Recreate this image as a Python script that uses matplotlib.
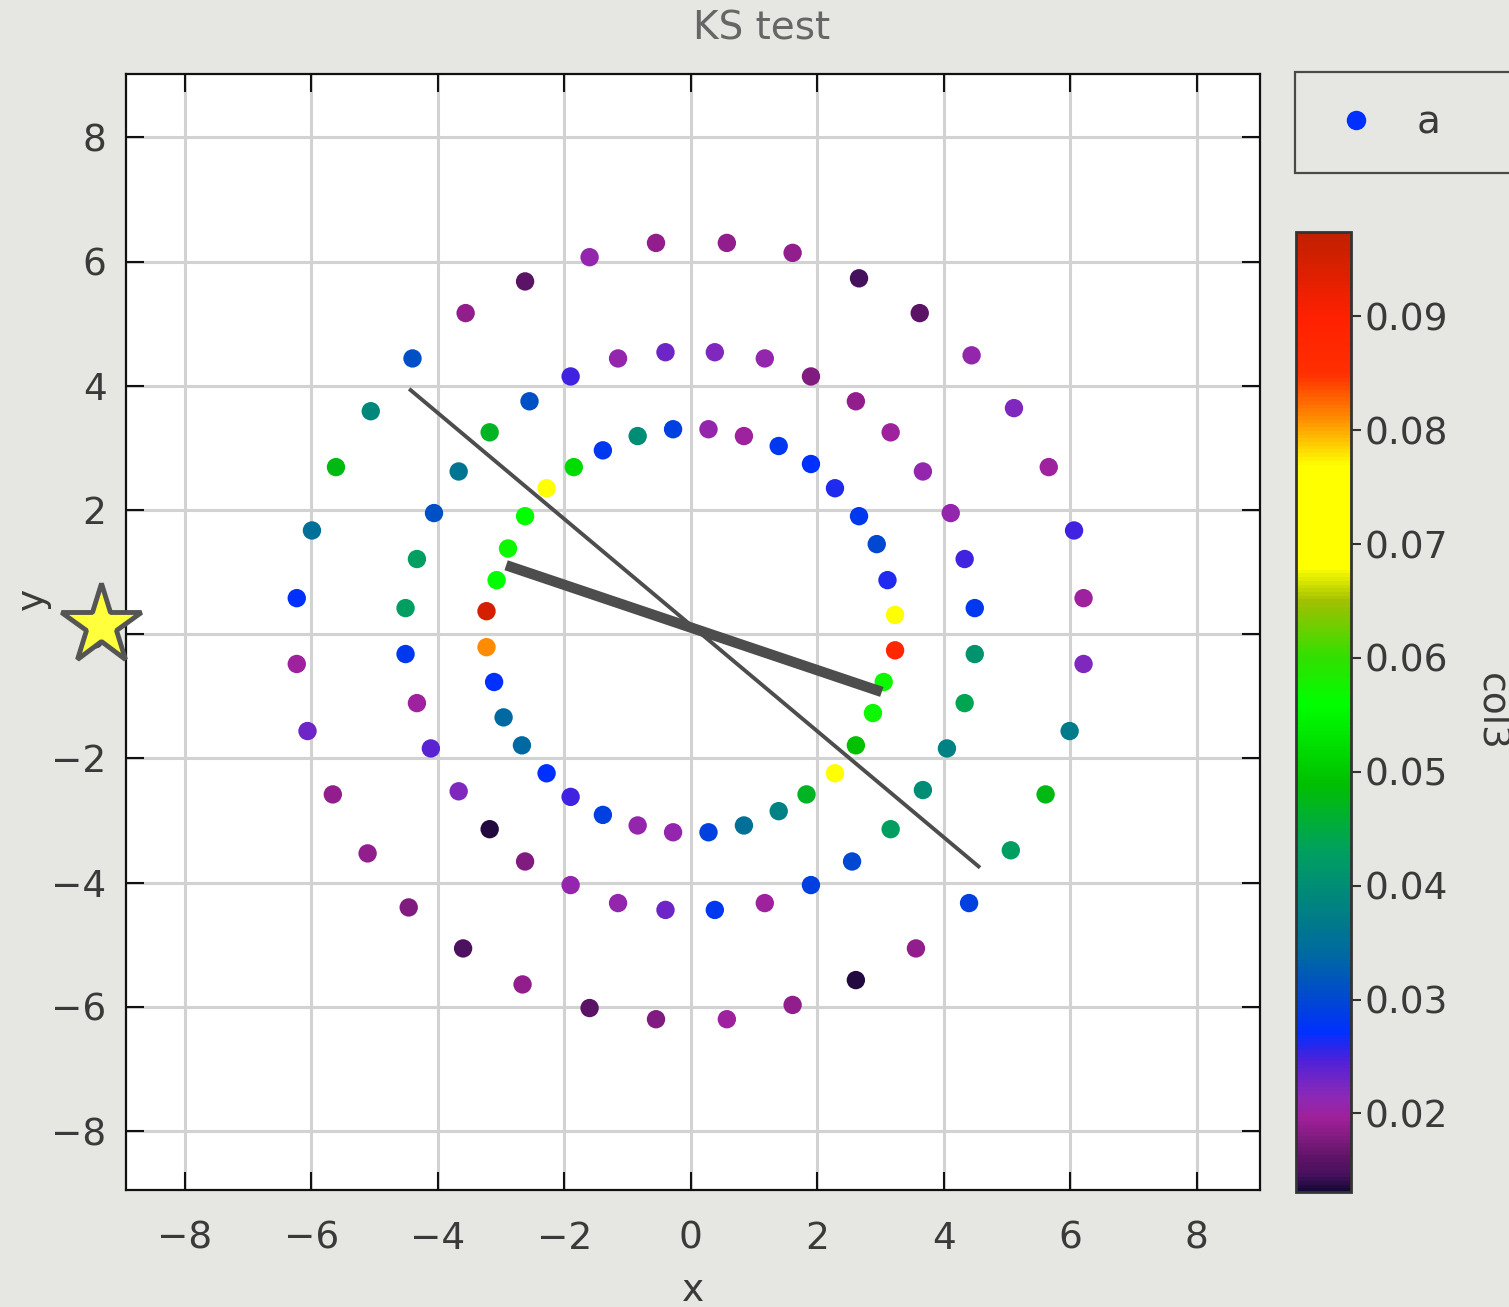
import matplotlib

matplotlib.use("Agg")
import matplotlib.pyplot as plt
import numpy as np
from matplotlib.colors import LinearSegmentedColormap, Normalize
from matplotlib.lines import Line2D

# three rings of points, coloured by col3
outer_x = [-0.55, 0.57, 1.61, 2.66, 3.62, 4.44, 5.11, 5.66, 6.06, 6.21, 6.21, 5.99,
           5.61, 5.06, 4.40, 3.56, 2.61, 1.61, 0.57, -0.55, -1.60, -2.66, -3.60, -4.46,
           -5.11, -5.66, -6.06, -6.23, -6.23, -5.99, -5.61, -5.06, -4.40, -3.56, -2.62, -1.60]
outer_y = [6.30, 6.30, 6.14, 5.73, 5.17, 4.49, 3.64, 2.69, 1.67, 0.58, -0.48, -1.56,
           -2.58, -3.48, -4.33, -5.06, -5.57, -5.97, -6.20, -6.20, -6.02, -5.64, -5.06, -4.40,
           -3.53, -2.58, -1.56, -0.48, 0.58, 1.67, 2.69, 3.59, 4.44, 5.17, 5.68, 6.07]
outer_c = [0.019, 0.019, 0.019, 0.0145, 0.016, 0.021, 0.022, 0.020, 0.025, 0.020, 0.022, 0.037,
           0.048, 0.043, 0.029, 0.019, 0.0135, 0.019, 0.020, 0.018, 0.016, 0.019, 0.015, 0.018,
           0.019, 0.019, 0.023, 0.020, 0.027, 0.035, 0.048, 0.039, 0.031, 0.019, 0.016, 0.021]

middle_x = [-0.40, 0.38, 1.17, 1.90, 2.61, 3.16, 3.67, 4.11, 4.33, 4.49, 4.49, 4.33,
            4.05, 3.67, 3.16, 2.55, 1.90, 1.17, 0.38, -0.40, -1.15, -1.90, -2.62, -3.18,
            -3.67, -4.11, -4.33, -4.51, -4.51, -4.33, -4.06, -3.67, -3.18, -2.55, -1.90, -1.15]
middle_y = [4.54, 4.54, 4.44, 4.15, 3.75, 3.25, 2.62, 1.95, 1.21, 0.42, -0.32, -1.11,
            -1.84, -2.51, -3.14, -3.66, -4.04, -4.33, -4.44, -4.44, -4.33, -4.04, -3.66, -3.14,
            -2.53, -1.84, -1.11, -0.32, 0.42, 1.21, 1.95, 2.62, 3.25, 3.75, 4.15, 4.44]
middle_c = [0.023, 0.022, 0.021, 0.018, 0.019, 0.020, 0.021, 0.021, 0.025, 0.028, 0.041, 0.044,
            0.038, 0.040, 0.043, 0.030, 0.029, 0.020, 0.028, 0.023, 0.021, 0.021, 0.018, 0.0135,
            0.022, 0.024, 0.020, 0.028, 0.043, 0.043, 0.031, 0.036, 0.047, 0.031, 0.025, 0.021]

inner_x = [-0.28, 0.28, 0.84, 1.39, 1.90, 2.28, 2.66, 2.94, 3.11, 3.23, 3.23, 3.05,
           2.88, 2.61, 2.28, 1.83, 1.39, 0.84, 0.28, -0.28, -0.84, -1.39, -1.90, -2.28,
           -2.67, -2.96, -3.11, -3.23, -3.23, -3.07, -2.89, -2.62, -2.28, -1.85, -1.39, -0.84]
inner_y = [3.30, 3.30, 3.19, 3.03, 2.74, 2.35, 1.90, 1.45, 0.87, 0.31, -0.26, -0.77,
           -1.27, -1.79, -2.24, -2.58, -2.85, -3.08, -3.19, -3.19, -3.08, -2.91, -2.62, -2.24,
           -1.79, -1.34, -0.77, -0.21, 0.37, 0.87, 1.38, 1.90, 2.35, 2.69, 2.96, 3.19]
inner_c = [0.029, 0.021, 0.020, 0.028, 0.027, 0.026, 0.028, 0.030, 0.026, 0.072, 0.088, 0.057,
           0.057, 0.049, 0.072, 0.047, 0.038, 0.035, 0.029, 0.021, 0.021, 0.029, 0.025, 0.027,
           0.034, 0.034, 0.027, 0.081, 0.095, 0.056, 0.057, 0.056, 0.072, 0.052, 0.028, 0.040]

# the two fitted lines through the centre
thin_x = [-4.43, 4.55]
thin_y = [3.93, -3.74]
thick_x = [-2.92, 3.02]
thick_y = [1.11, -0.93]

# star marker left of the axis
star_x = [-9.33]
star_y = [0.15]

col3_min, col3_max = 0.0131, 0.0974
cbar_ticks = [0.02, 0.03, 0.04, 0.05, 0.06, 0.07, 0.08, 0.09]
axis_ticks = [-8, -6, -4, -2, 0, 2, 4, 6, 8]

# colour scale (value, colour)
cmap_vals = [0.0131, 0.0145, 0.016, 0.0175, 0.0195, 0.0215, 0.0245, 0.027, 0.030, 0.034, 0.038,
             0.043, 0.049, 0.056, 0.060, 0.065, 0.068, 0.077, 0.081, 0.085, 0.090, 0.0974]
cmap_cols = ["#160838", "#48105e", "#5e1466", "#7c1a7c", "#a0209a", "#8a2ab8", "#5020d8",
             "#0030ff", "#0048d0", "#006aa0", "#008282", "#00a060", "#00c000", "#00ff00",
             "#30e000", "#a0c000", "#ffff00", "#ffff00", "#ff9000", "#ff3000", "#ff2000",
             "#c02000"]

BG = "#e6e6e2"
TXT = "#3a3a3a"

pos = [(v - col3_min) / (col3_max - col3_min) for v in cmap_vals]
cmap = LinearSegmentedColormap.from_list("col3", list(zip(pos, cmap_cols)))
norm = Normalize(vmin=col3_min, vmax=col3_max)

fig = plt.figure(figsize=(15.09, 13.07), dpi=100, facecolor=BG)
ax = fig.add_axes([126 / 1509, 1 - 1190 / 1307, 1134 / 1509, 1116 / 1307])
ax.set_facecolor("white")

xs = np.concatenate([outer_x, middle_x, inner_x])
ys = np.concatenate([outer_y, middle_y, inner_y])
cs = np.concatenate([outer_c, middle_c, inner_c])
sc = ax.scatter(xs, ys, c=cs, cmap=cmap, norm=norm, s=175, linewidths=0, zorder=3)

ax.plot(thin_x, thin_y, color="#4d4d4d", lw=2.8, zorder=4)
ax.plot(thick_x, thick_y, color="#4d4d4d", lw=7.5, solid_capstyle="butt", zorder=4)
ax.plot(star_x, star_y, marker="*", markersize=60, markerfacecolor="#ffff3c",
        markeredgecolor="#555555", markeredgewidth=3.5, ls="none", clip_on=False, zorder=10)

ax.set_xlim(-8.93, 9.0)
ax.set_ylim(-8.95, 9.02)
ax.set_xticks(axis_ticks)
ax.set_yticks(axis_ticks)
ax.grid(True, color="#d2d2d2", lw=2.2, zorder=0)
ax.set_axisbelow(True)
for sp in ax.spines.values():
    sp.set_linewidth(1.6)
    sp.set_color("#111111")
ax.tick_params(direction="in", length=13, width=1.5, top=True, right=True,
               labelsize=27, labelcolor=TXT, color="#111111")
ax.tick_params(axis="x", pad=22)
ax.tick_params(axis="y", pad=14)

ax.set_xlabel("x", fontsize=27, color=TXT, labelpad=12)
ax.set_ylabel("y", fontsize=27, color=TXT)
ax.yaxis.set_label_coords(-0.066, 0.53)
fig.text(762 / 1509, 1 - 28 / 1307, "KS test", fontsize=28, color="#666666",
         ha="center", va="center")

cax = fig.add_axes([1296 / 1509, 1 - 1192 / 1307, 55 / 1509, 960 / 1307])
cb = fig.colorbar(sc, cax=cax, ticks=cbar_ticks)
cb.outline.set_linewidth(2)
cb.outline.set_edgecolor("#333333")
cax.tick_params(direction="out", length=7, width=1.5, labelsize=27, labelcolor=TXT,
                color="#333333", pad=3)
cax.set_yticklabels([f"{t:.2f}" for t in cbar_ticks])
cb.set_label("col3", rotation=270, fontsize=27, color=TXT, labelpad=44)

handle = Line2D([], [], marker="o", ls="none", color="#0030ff", markersize=13)
leg = fig.legend([handle], ["a"], loc="upper left",
                 bbox_to_anchor=(1295 / 1509, 1 - 73 / 1307, 0.25, 0.001), mode="expand",
                 borderaxespad=0, fontsize=28, borderpad=0.82, handlelength=1.5,
                 handletextpad=0.8, frameon=True, fancybox=False, edgecolor="#222222",
                 facecolor=BG, labelcolor=TXT)
leg.get_frame().set_linewidth(1.6)

fig.savefig("out.png", dpi=100, facecolor=BG)
